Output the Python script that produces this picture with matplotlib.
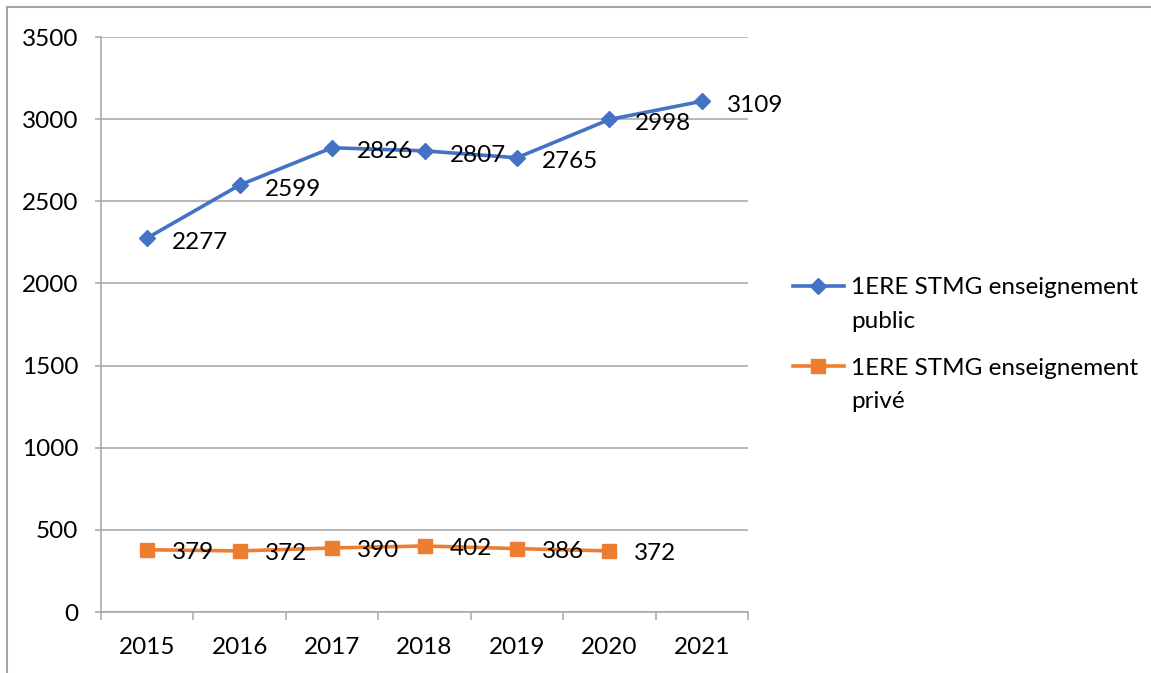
import matplotlib.pyplot as plt
from matplotlib.lines import Line2D

# Données
annees = ['2015', '2016', '2017', '2018', '2019', '2020', '2021']
public = [2277, 2599, 2826, 2807, 2765, 2998, 3109]
prive = [379, 372, 390, 402, 386, 372]
noms = ['1ERE STMG enseignement\npublic', '1ERE STMG enseignement\nprivé']

bleu = '#4472C4'
orange = '#ED7D31'
gris = '#A6A6A6'
taille = 17.5

plt.rcParams['font.family'] = ['Lato', 'DejaVu Sans']

fig = plt.figure(figsize=(11.51, 6.73), dpi=100)
ax = fig.add_axes([0.0878, 0.0906, 0.5621, 0.8544])

x_pub = list(range(len(public)))
x_pri = list(range(len(prive)))
ax.plot(x_pub, public, color=bleu, lw=2.6, marker='D', ms=8.5, label=noms[0], zorder=3)
ax.plot(x_pri, prive, color=orange, lw=2.6, marker='s', ms=9.5, label=noms[1], zorder=3)

for xi, v in zip(x_pub, public):
    ax.annotate(str(v), (xi, v), xytext=(18, -3), textcoords='offset points',
                ha='left', va='center', fontsize=taille, color='black', zorder=4)
for xi, v in zip(x_pri, prive):
    ax.annotate(str(v), (xi, v), xytext=(18, -2), textcoords='offset points',
                ha='left', va='center', fontsize=taille, color='black', zorder=4)

ax.set_xlim(-0.5, len(annees) - 0.5)
ax.set_ylim(0, 3500)
ax.set_yticks(range(0, 3501, 500))
ax.set_xticks(x_pub)
ax.set_xticklabels(annees)
ax.set_xticks([i - 0.5 for i in range(len(annees) + 1)], minor=True)

ax.grid(axis='y', color=gris, lw=1.1, zorder=0)
for s in ['top', 'right']:
    ax.spines[s].set_visible(False)
for s in ['left', 'bottom']:
    ax.spines[s].set_color(gris)
    ax.spines[s].set_linewidth(1.1)

ax.tick_params(axis='y', length=4.5, width=1.1, color=gris, pad=12, labelsize=taille)
ax.tick_params(axis='x', which='major', length=0, pad=18, labelsize=taille)
ax.tick_params(axis='x', which='minor', length=6, width=1.1, color=gris)

leg = fig.legend(loc='upper left', bbox_to_anchor=(0.678, 0.606), frameon=False,
                 fontsize=taille, handlelength=2.1, handletextpad=0.3,
                 labelspacing=1.05, borderpad=0)
for t in leg.get_texts():
    t.set_linespacing(1.75)
# symbole aligné sur la première ligne du libellé
for col in leg._legend_handle_box.get_children():
    for ligne in col.get_children():
        ligne.align = 'top'

# cadre de la zone
fig.add_artist(Line2D([7 / 1151, 7 / 1151], [0, 1 - 7 / 673], color=gris, lw=1.5))
fig.add_artist(Line2D([7 / 1151, 1], [1 - 7 / 673, 1 - 7 / 673], color=gris, lw=1.5))

fig.savefig('out.png', dpi=100)
